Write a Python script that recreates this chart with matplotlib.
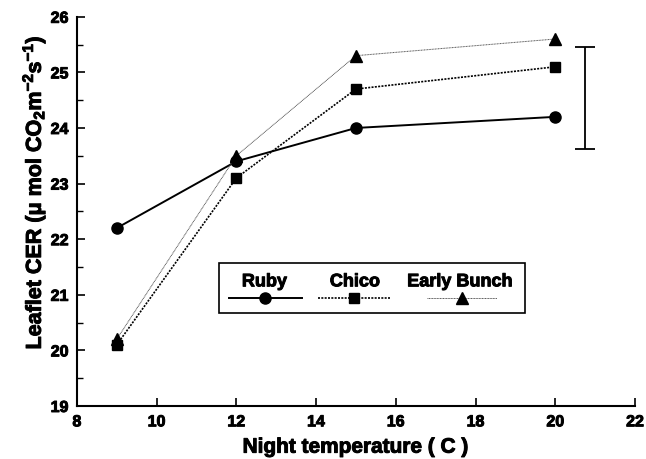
import numpy as np
import matplotlib
matplotlib.use("Agg")
import matplotlib.pyplot as plt
import matplotlib.patheffects as pe
from matplotlib.lines import Line2D
from matplotlib.patches import Rectangle

plt.rcParams['font.family'] = ['Liberation Sans', 'DejaVu Sans']
plt.rcParams['font.weight'] = 'bold'
plt.rcParams['mathtext.fontset'] = 'custom'
plt.rcParams['mathtext.rm'] = 'Liberation Sans:bold'
plt.rcParams['mathtext.bf'] = 'Liberation Sans:bold'
plt.rcParams['mathtext.default'] = 'regular'

# data
night_temp = [9, 12, 15, 20]
ruby = [22.2, 23.4, 24.0, 24.2]
chico = [20.1, 23.1, 24.7, 25.1]
early_bunch = [20.2, 23.5, 25.3, 25.6]
lsd_x = 20.75
lsd_lo, lsd_hi = 23.62, 25.46
xticks = [8, 10, 12, 14, 16, 18, 20, 22]
yticks = [19, 20, 21, 22, 23, 24, 25, 26]

names = ['Ruby', 'Chico', 'Early Bunch']
styles = [dict(ls='-', lw=1.4, color='black', marker='o', ms=8),
          dict(ls=(0, (1.2, 0.8)), lw=1.2, color='black', marker='s', ms=7.5),
          dict(ls=(0, (1, 0.6)), lw=0.7, color='#555555', marker='^', ms=9,
               mfc='black', mec='black')]

heavy = [pe.withStroke(linewidth=0.7, foreground='black')]

fig = plt.figure(figsize=(6.46, 4.59), dpi=100)
ax = fig.add_axes([0.119, 0.1155, 0.864, 0.848])

for ys, st in zip([ruby, chico, early_bunch], styles):
    ax.plot(night_temp, ys, **st)

ax.errorbar([lsd_x], [(lsd_lo + lsd_hi) / 2], yerr=[[(lsd_hi - lsd_lo) / 2]],
            fmt='none', ecolor='black', elinewidth=1.3, capsize=7, capthick=1.3)

ax.set_xlim(8, 22)
ax.set_ylim(19, 26)
ax.set_xticks(xticks)
ax.set_xticklabels([str(t) for t in xticks], fontweight='bold', fontsize=11.5,
                   path_effects=heavy)
ax.set_yticks(yticks)
ax.set_yticklabels([str(t) for t in yticks], fontweight='bold', fontsize=11.5,
                   path_effects=heavy)
ax.set_yticks(np.arange(19.5, 26, 1), minor=True)
ax.tick_params(direction='in', length=6, width=1.2, pad=6)
ax.tick_params(which='minor', direction='in', length=4, width=1)
for s in ['top', 'right']:
    ax.spines[s].set_visible(False)
for s in ['left', 'bottom']:
    ax.spines[s].set_linewidth(1.5)

ax.set_xlabel('Night temperature ( C )', fontsize=15, fontweight='bold', labelpad=6,
              path_effects=heavy)
ax.set_ylabel('Leaflet CER (\u03bc mol CO$_2$m$^{-2}$s$^{-1}$)', fontsize=15.5,
              fontweight='bold', path_effects=heavy)
ax.yaxis.set_label_coords(-0.052, 0.548)

# legend: label above handle, drawn by hand in axes fractions
ax.add_patch(Rectangle((0.254, 0.239), 0.549, 0.129, transform=ax.transAxes,
                       fill=True, fc='white', ec='black', lw=1.2, zorder=5))
text_x = [0.336, 0.498, 0.686]
line_x = [(0.272, 0.403), (0.432, 0.561), (0.627, 0.753)]
for name, st, tx, (x0, x1) in zip(names, styles, text_x, line_x):
    ax.text(tx, 0.319, name, transform=ax.transAxes, ha='center', va='center',
            fontsize=13, fontweight='bold', zorder=6, path_effects=heavy)
    kw = {k: v for k, v in st.items() if k not in ('marker', 'ms', 'mfc', 'mec')}
    ax.add_line(Line2D([x0, x1], [0.278, 0.278], transform=ax.transAxes, zorder=6, **kw))
    ax.add_line(Line2D([(x0 + x1) / 2], [0.278], transform=ax.transAxes, zorder=7,
                       marker=st['marker'], ms=st['ms'], color='black', ls='none'))

fig.savefig('out.png', dpi=100)
